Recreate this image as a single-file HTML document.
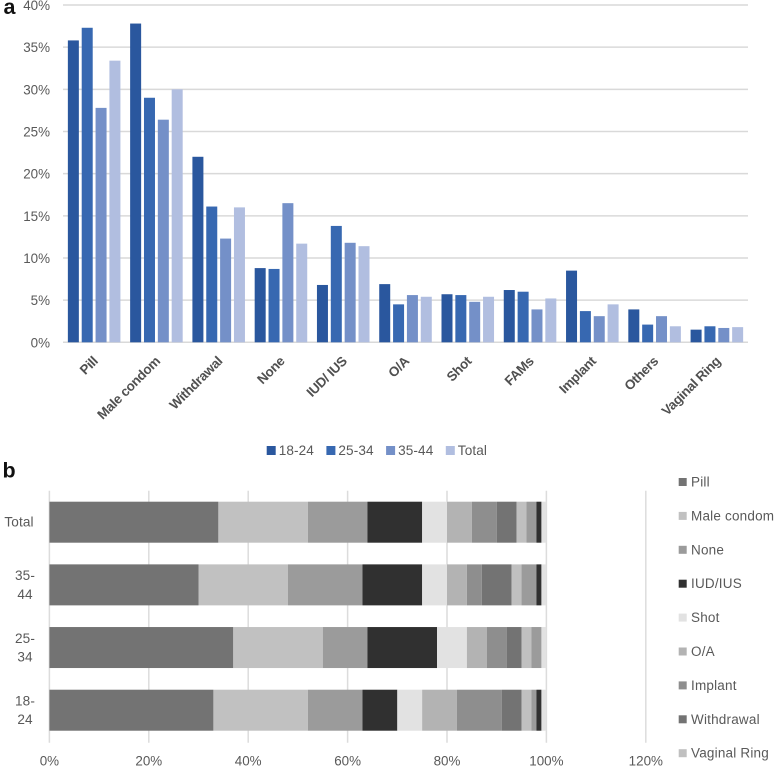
<!DOCTYPE html>
<html>
<head>
<meta charset="utf-8">
<title>Contraceptive use by age group</title>
<style>
html,body{margin:0;padding:0;background:#fff;}
body{width:774px;height:766px;overflow:hidden;}
svg{display:block;font-family:"Liberation Sans",sans-serif;filter:blur(0.35px);}
</style>
</head>
<body>
<svg id="figure" width="774" height="766" viewBox="0 0 774 766" xmlns="http://www.w3.org/2000/svg">
  <rect x="0" y="0" width="774" height="766" fill="#ffffff"/>
  <text x="3.5" y="14" font-size="21.5" font-weight="bold" fill="#111">a</text>
  <text x="2.5" y="477.5" font-size="21.5" font-weight="bold" fill="#111">b</text>
  <g id="chartA"></g>
  <g id="chartB"></g>
</svg>
<script>
// ---- Panel a data ----
const methodCategories = ['Pill','Male condom','Withdrawal','None','IUD/ IUS','O/A','Shot','FAMs','Implant','Others','Vaginal Ring'];
const ageSeriesNames = ['18-24','25-34','35-44','Total'];
const values1824 = [35.8,37.8,22.0,8.8,6.8,6.9,5.7,6.2,8.5,3.9,1.5];
const values2534 = [37.3,29.0,16.1,8.7,13.8,4.5,5.6,6.0,3.7,2.1,1.9];
const values3544 = [27.8,26.4,12.3,16.5,11.8,5.6,4.8,3.9,3.1,3.1,1.7];
const valuesTotal = [33.4,30.0,16.0,11.7,11.4,5.4,5.4,5.2,4.5,1.9,1.8];
const yTickValues = [0,5,10,15,20,25,30,35,40];

// ---- Panel b data ----
const ageCategories = ['Total','35-44','25-34','18-24'];
const stackNames = ['Pill','Male condom','None','IUD/IUS','Shot','O/A','Implant','Withdrawal','Vaginal Ring','Others','FAMs','Other methods'];
const stackPill = [34,30,37,33];
const stackMaleCondom = [18,18,18,19];
const stackNone = [12,15,9,11];
const stackIud = [11,12,14,7];
const stackShot = [5,5,6,5];
const stackOa = [5,4,4,7];
const stackImplant = [5,3,4,9];
const stackWithdrawal = [4,6,3,4];
const stackVaginalRing = [2,2,2,2];
const stackOthers = [2,3,2,1];
const stackFams = [1,1,0,1];
const stackOther = [1,1,1,1];
const xTickValues = [0,20,40,60,80,100,120];

const NS = 'http://www.w3.org/2000/svg';
function mk(parent, tag, attrs, text) {
  const el = document.createElementNS(NS, tag);
  for (const k in attrs) el.setAttribute(k, attrs[k]);
  if (text !== undefined) el.textContent = text;
  parent.appendChild(el);
  return el;
}
function slug(s) { return s.toLowerCase().replace(/[^a-z0-9]+/g, '-'); }

// ---- Panel a ----
(function () {
  const g = document.getElementById('chartA');
  const left = 63, right = 748, top = 5, bottom = 342.3, yMax = 40;
  const series = [values1824, values2534, values3544, valuesTotal];
  const colors = ['#2a579e', '#3768b1', '#7490c8', '#b1bee0'];
  const y = v => bottom - (v / yMax) * (bottom - top);
  const step = (right - left) / methodCategories.length;
  const barW = 11, pitch = 13.85;
  const barX = (c, s) => left + c * step + (step - (3 * pitch + barW)) / 2 + s * pitch;

  yTickValues.forEach(t => {
    const line = mk(g, 'line', { x1: left, x2: right, y1: y(t), y2: y(t), stroke: '#d9d9d9', 'stroke-width': 1.5 });
    
    
    const label = mk(g, 'text', { x: 50, y: y(t) + 5, 'text-anchor': 'end', 'font-size': 13.4, fill: '#595959' }, t + '%');
    
    
  });

  series.forEach((vals, s) => {
    vals.forEach((v, c) => {
      const bar = mk(g, 'rect', { x: barX(c, s), y: y(v), width: barW, height: y(0) - y(v), fill: colors[s] });
      
      
    });
  });

  methodCategories.forEach((name, c) => {
    const cx = left + c * step + step / 2 + 4.5;
    const cy = 362;
    const label = mk(g, 'text', { x: cx, y: cy, 'text-anchor': 'end', 'font-size': 13.4, 'font-weight': 'bold', 'letter-spacing': -0.3, fill: '#505050', transform: 'rotate(-45 ' + cx + ' ' + cy + ')' }, name);
    
    
  });

  ageSeriesNames.forEach((name, s) => {
    const lx = 266.7 + s * 59.7;
    const swatch = mk(g, 'rect', { x: lx, y: 446, width: 9, height: 9, fill: colors[s] });
    
    
    const label = mk(g, 'text', { x: lx + 12, y: 455, 'font-size': 13.6, 'letter-spacing': 0.1, fill: '#595959' }, name);
    
    
  });
})();

// ---- Panel b ----
(function () {
  const g = document.getElementById('chartB');
  const left = 49.4, pxPerPct = 4.97, gridTop = 490.7, gridBottom = 742.7;
  const barTop = 501.7, barPitch = 62.67, barH = 41;
  const series = [stackPill, stackMaleCondom, stackNone, stackIud, stackShot, stackOa, stackImplant, stackWithdrawal, stackVaginalRing, stackOthers, stackFams, stackOther];
  const colors = ['#737373','#c1c1c1','#9b9b9b','#303030','#e2e2e2','#b3b3b3','#8e8e8e','#737373','#c0c0c0','#9b9b9b','#303030','#e2e2e2'];
  const x = v => left + v * pxPerPct;
  const legendCount = 9;

  xTickValues.forEach(t => {
    const line = mk(g, 'line', { x1: x(t), x2: x(t), y1: gridTop, y2: gridBottom, stroke: '#dcdcdc', 'stroke-width': 1.5 });
    
    
    const label = mk(g, 'text', { x: x(t), y: 765.5, 'text-anchor': 'middle', 'font-size': 13.4, fill: '#595959' }, t + '%');
    
    
  });

  ageCategories.forEach((cat, r) => {
    const by = barTop + r * barPitch;
    let acc = 0;
    series.forEach((vals, s) => {
      const v = vals[r];
      if (v > 0) {
        const seg = mk(g, 'rect', { x: x(acc), y: by, width: v * pxPerPct, height: barH, fill: colors[s] });
        
        
      }
      acc += v;
    });
    const mid = by + barH / 2;
    const parts = cat.indexOf('-') >= 0 ? [cat.split('-')[0] + '-', cat.split('-')[1]] : [cat];
    const labelX = parts.length > 1 ? 25 : 19;
    parts.forEach((p, i) => {
      const ly = parts.length > 1 ? mid - 4.7 + i * 18.6 : mid + 4.5;
      const label = mk(g, 'text', { x: labelX, y: ly, 'text-anchor': 'middle', 'font-size': 13.6, 'letter-spacing': 0.1, fill: '#595959' }, p);
      
      
    });
  });

  stackNames.slice(0, legendCount).forEach((name, i) => {
    const cy = 482 + i * 33.9;
    const swatch = mk(g, 'rect', { x: 678.7, y: cy - 4, width: 8, height: 8, fill: colors[i] });
    
    
    const label = mk(g, 'text', { x: 691, y: cy + 4.5, 'font-size': 13.5, 'letter-spacing': 0.2, fill: '#595959' }, name);
    
    
  });
})();
</script>
</body>
</html>
